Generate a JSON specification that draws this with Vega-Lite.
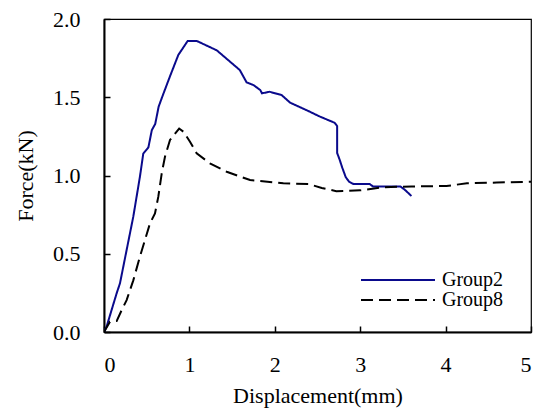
{
  "$schema": "https://vega.github.io/schema/vega-lite/v6.json",
  "width": 427,
  "height": 313,
  "autosize": "none",
  "padding": {"left": 104, "top": 19, "right": 11, "bottom": 78},
  "config": {
    "font": "Liberation Serif",
    "view": {"stroke": "black", "strokeWidth": 1.2},
    "axis": {
      "grid": false,
      "domainColor": "black",
      "domainWidth": 2,
      "tickColor": "black",
      "tickWidth": 1.5,
      "tickSize": -6,
      "labelFont": "Liberation Serif",
      "labelFontSize": 22,
      "labelColor": "black",
      "titleFont": "Liberation Serif",
      "titleFontSize": 22,
      "titleFontWeight": "normal",
      "titleColor": "black"
    }
  },
  "data": {
    "values": [
      {"series": "Group2", "i": 0, "x": 0, "y": 0},
      {"series": "Group2", "i": 1, "x": 0.03, "y": 0.034},
      {"series": "Group2", "i": 2, "x": 0.148, "y": 0.247},
      {"series": "Group2", "i": 3, "x": 0.187, "y": 0.311},
      {"series": "Group2", "i": 4, "x": 0.265, "y": 0.524},
      {"series": "Group2", "i": 5, "x": 0.343, "y": 0.737},
      {"series": "Group2", "i": 6, "x": 0.42, "y": 0.99},
      {"series": "Group2", "i": 7, "x": 0.46, "y": 1.14},
      {"series": "Group2", "i": 8, "x": 0.52, "y": 1.18},
      {"series": "Group2", "i": 9, "x": 0.56, "y": 1.29},
      {"series": "Group2", "i": 10, "x": 0.6, "y": 1.33},
      {"series": "Group2", "i": 11, "x": 0.64, "y": 1.44},
      {"series": "Group2", "i": 12, "x": 0.68, "y": 1.5},
      {"series": "Group2", "i": 13, "x": 0.77, "y": 1.63},
      {"series": "Group2", "i": 14, "x": 0.87, "y": 1.77},
      {"series": "Group2", "i": 15, "x": 0.98, "y": 1.86},
      {"series": "Group2", "i": 16, "x": 1.085, "y": 1.86},
      {"series": "Group2", "i": 17, "x": 1.32, "y": 1.8},
      {"series": "Group2", "i": 18, "x": 1.59, "y": 1.674},
      {"series": "Group2", "i": 19, "x": 1.67, "y": 1.595},
      {"series": "Group2", "i": 20, "x": 1.75, "y": 1.578},
      {"series": "Group2", "i": 21, "x": 1.83, "y": 1.546},
      {"series": "Group2", "i": 22, "x": 1.85, "y": 1.525},
      {"series": "Group2", "i": 23, "x": 1.94, "y": 1.535},
      {"series": "Group2", "i": 24, "x": 2.08, "y": 1.514},
      {"series": "Group2", "i": 25, "x": 2.18, "y": 1.465},
      {"series": "Group2", "i": 26, "x": 2.37, "y": 1.418},
      {"series": "Group2", "i": 27, "x": 2.53, "y": 1.376},
      {"series": "Group2", "i": 28, "x": 2.7, "y": 1.337},
      {"series": "Group2", "i": 29, "x": 2.73, "y": 1.316},
      {"series": "Group2", "i": 30, "x": 2.73, "y": 1.144},
      {"series": "Group2", "i": 31, "x": 2.76, "y": 1.1},
      {"series": "Group2", "i": 32, "x": 2.79, "y": 1.05},
      {"series": "Group2", "i": 33, "x": 2.83, "y": 0.99},
      {"series": "Group2", "i": 34, "x": 2.87, "y": 0.96},
      {"series": "Group2", "i": 35, "x": 2.92, "y": 0.946},
      {"series": "Group2", "i": 36, "x": 3.11, "y": 0.946},
      {"series": "Group2", "i": 37, "x": 3.15, "y": 0.93},
      {"series": "Group2", "i": 38, "x": 3.47, "y": 0.93},
      {"series": "Group2", "i": 39, "x": 3.52, "y": 0.91},
      {"series": "Group2", "i": 40, "x": 3.6, "y": 0.869},
      {"series": "Group8", "i": 0, "x": 0, "y": 0},
      {"series": "Group8", "i": 1, "x": 0.07, "y": 0.066},
      {"series": "Group8", "i": 2, "x": 0.148, "y": 0.07},
      {"series": "Group8", "i": 3, "x": 0.207, "y": 0.14},
      {"series": "Group8", "i": 4, "x": 0.265, "y": 0.204},
      {"series": "Group8", "i": 5, "x": 0.343, "y": 0.33},
      {"series": "Group8", "i": 6, "x": 0.42, "y": 0.48},
      {"series": "Group8", "i": 7, "x": 0.48, "y": 0.588},
      {"series": "Group8", "i": 8, "x": 0.539, "y": 0.695},
      {"series": "Group8", "i": 9, "x": 0.597, "y": 0.758},
      {"series": "Group8", "i": 10, "x": 0.636, "y": 0.865},
      {"series": "Group8", "i": 11, "x": 0.676, "y": 1.014},
      {"series": "Group8", "i": 12, "x": 0.714, "y": 1.12},
      {"series": "Group8", "i": 13, "x": 0.773, "y": 1.227},
      {"series": "Group8", "i": 14, "x": 0.88, "y": 1.3},
      {"series": "Group8", "i": 15, "x": 0.93, "y": 1.28},
      {"series": "Group8", "i": 16, "x": 1.007, "y": 1.216},
      {"series": "Group8", "i": 17, "x": 1.085, "y": 1.142},
      {"series": "Group8", "i": 18, "x": 1.24, "y": 1.078},
      {"series": "Group8", "i": 19, "x": 1.437, "y": 1.024},
      {"series": "Group8", "i": 20, "x": 1.71, "y": 0.971},
      {"series": "Group8", "i": 21, "x": 2.1, "y": 0.95},
      {"series": "Group8", "i": 22, "x": 2.4, "y": 0.945},
      {"series": "Group8", "i": 23, "x": 2.55, "y": 0.92},
      {"series": "Group8", "i": 24, "x": 2.72, "y": 0.9},
      {"series": "Group8", "i": 25, "x": 3.0, "y": 0.905},
      {"series": "Group8", "i": 26, "x": 3.27, "y": 0.925},
      {"series": "Group8", "i": 27, "x": 3.6, "y": 0.93},
      {"series": "Group8", "i": 28, "x": 4.01, "y": 0.933},
      {"series": "Group8", "i": 29, "x": 4.25, "y": 0.95},
      {"series": "Group8", "i": 30, "x": 4.6, "y": 0.955},
      {"series": "Group8", "i": 31, "x": 5.0, "y": 0.96}
    ]
  },
  "mark": {"type": "line", "strokeWidth": 2, "clip": true},
  "encoding": {
    "x": {
      "field": "x",
      "type": "quantitative",
      "scale": {"domain": [0, 5], "nice": false},
      "axis": {"values": [0, 1, 2, 3, 4, 5], "format": "d", "title": "Displacement(mm)", "labelPadding": 28, "titlePadding": 10}
    },
    "y": {
      "field": "y",
      "type": "quantitative",
      "scale": {"domain": [0, 2], "nice": false},
      "axis": {"values": [0, 0.5, 1, 1.5, 2], "format": ".1f", "title": "Force(kN)", "labelPadding": 30, "titlePadding": 15}
    },
    "order": {"field": "i", "type": "quantitative"},
    "color": {
      "field": "series",
      "type": "nominal",
      "scale": {"domain": ["Group2", "Group8"], "range": ["#0A0A8C", "#000000"]},
      "legend": {
        "title": null,
        "orient": "none",
        "legendX": 252,
        "legendY": 251,
        "symbolType": "M-1,0H13.8",
        "symbolSize": 100,
        "symbolStrokeWidth": 2,
        "symbolFillColor": "transparent",
        "labelFontSize": 20,
        "labelFont": "Liberation Serif",
        "labelColor": "black",
        "labelOffset": 66,
        "rowPadding": -2
      }
    },
    "strokeDash": {
      "field": "series",
      "type": "nominal",
      "scale": {"domain": ["Group2", "Group8"], "range": [[1, 0], [12, 6]]},
      "legend": null
    }
  }
}
